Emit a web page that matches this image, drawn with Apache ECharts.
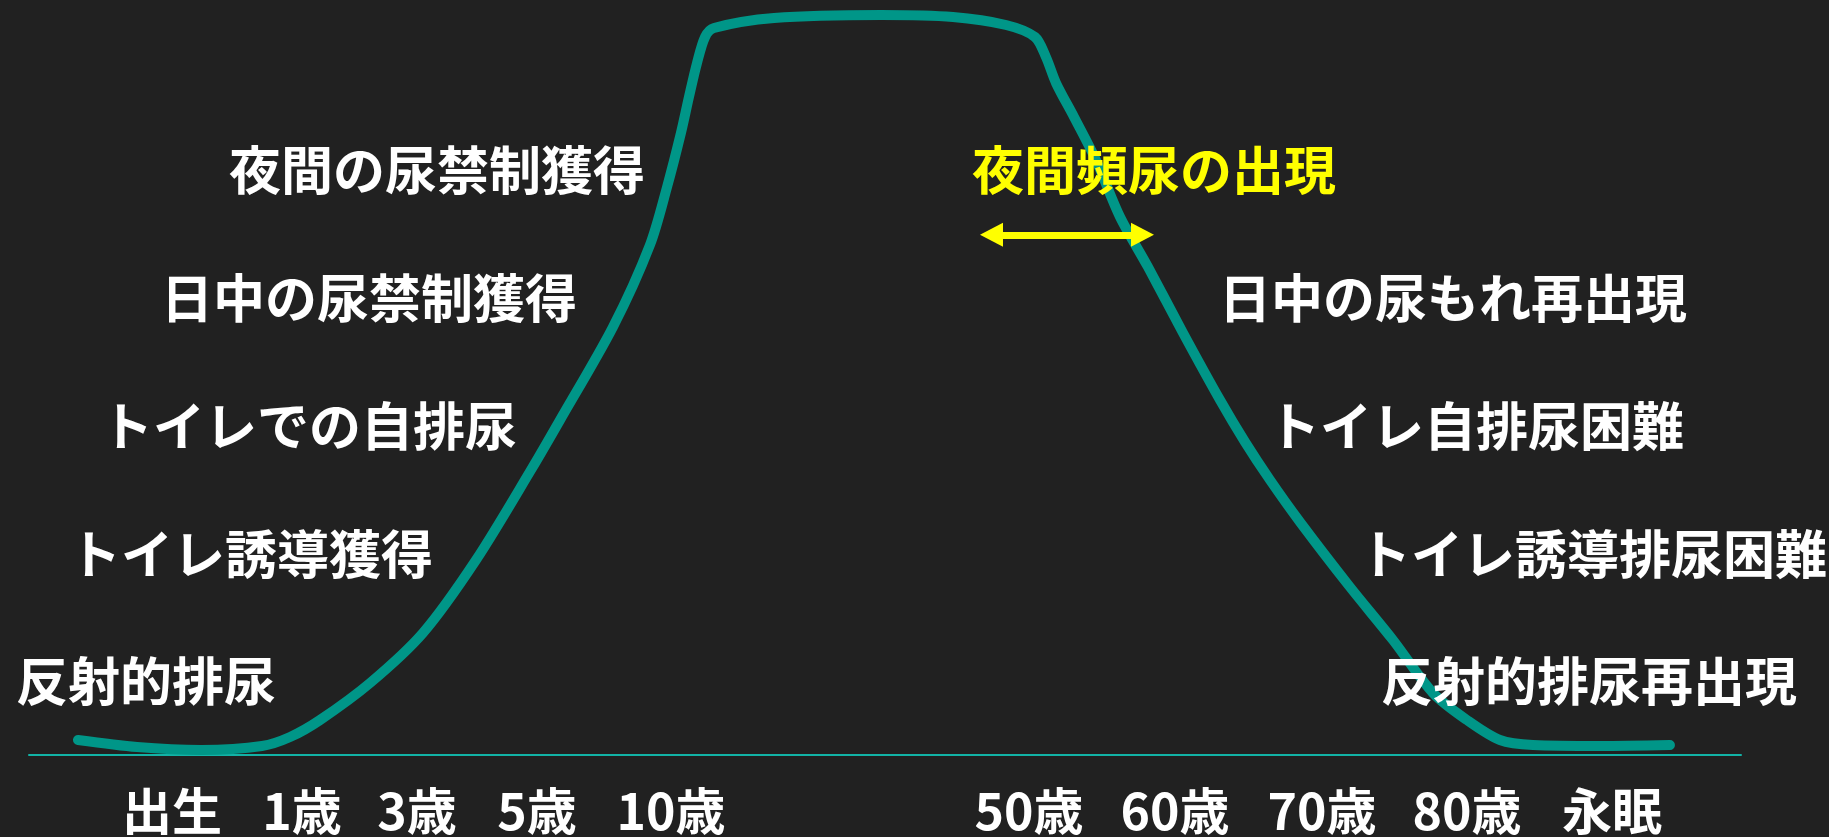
<!DOCTYPE html>
<html>
<head>
<meta charset="utf-8">
<script src="https://cdn.jsdelivr.net/npm/echarts@6/dist/echarts.min.js"></script>
<style>
html, body { margin: 0; padding: 0; background: #212121; }
#main { width: 1829px; height: 837px; }
</style>
</head>
<body>
<div id="main"></div>
<script>
// 横軸は 0〜100 の相対位置 (年齢は等間隔ではない)
var tickValues = [8.35, 15.95, 22.66, 29.67, 37.5, 58.41, 66.94, 75.53, 84.0, 92.46];
var tickLabels = ['出生', '1歳', '3歳', '5歳', '10歳', '50歳', '60歳', '70歳', '80歳', '永眠'];

// 排尿機能の曲線
var curveX = [2.86, 6.31, 10.05, 13.61, 15.25, 17.00, 19.92, 23.01, 26.11, 29.32, 31.02,
	34.11, 36.27, 37.27, 38.08, 38.55, 39.02, 39.49, 40.01, 43.52, 49.77,
	53.97, 57.07, 58.76, 59.40, 59.99, 61.04, 62.32, 63.73, 65.36, 67.41,
	69.57, 71.03, 72.49, 74.24, 77.16, 79.67, 82.01, 83.99, 85.92, 87.85, 91.76, 95.85];
var curveY = [2.03, 1.08, 0.68, 1.22, 2.43, 4.73, 9.73, 16.49, 26.35, 38.51, 45.27,
	57.84, 68.92, 76.76, 84.05, 88.92, 93.51, 97.03, 98.24, 99.59, 100.0,
	99.73, 98.65, 97.03, 94.32, 90.81, 86.22, 80.41, 72.70, 65.95, 57.03,
	47.97, 42.30, 37.16, 31.49, 22.70, 15.54, 8.38, 4.73, 2.03, 1.35, 1.22, 1.35];

// 発達 (左) と 加齢 (右)
var leftNotes = ['夜間の尿禁制獲得', '日中の尿禁制獲得', 'トイレでの自排尿', 'トイレ誘導獲得', '反射的排尿'];
var rightNotes = ['日中の尿もれ再出現', 'トイレ自排尿困難', 'トイレ誘導排尿困難', '反射的排尿再出現'];
var nocturiaNote = '夜間頻尿の出現';
var nocturiaRange = [56.22, 65.04];
var nocturiaLevel = 70.3;

var data = [];
for (var i = 0; i < curveX.length; i++) {
	data.push([curveX[i], curveY[i]]);
}

var FONT = '"Noto Sans CJK JP", "Noto Sans", sans-serif';

function note(text, cx, cy, color) {
	return {
		type: 'text',
		x: cx,
		y: cy,
		z: 100,
		style: {
			text: text,
			fill: color || '#ffffff',
			font: 'bold 52px ' + FONT,
			align: 'center',
			verticalAlign: 'middle'
		}
	};
}

var chart = echarts.init(document.getElementById('main'));
var option = {
	backgroundColor: '#212121',
	animation: false,
	grid: {
		left: 29,
		right: 88,
		top: 15,
		bottom: 82
	},
	xAxis: {
		type: 'value',
		min: 0,
		max: 100,
		splitLine: { show: false },
		axisTick: { show: false },
		axisLine: {
			show: true,
			lineStyle: { color: '#12b3a6', width: 2 }
		},
		axisLabel: {
			customValues: tickValues,
			formatter: function (v) {
				var best = 0;
				for (var i = 1; i < tickValues.length; i++) {
					if (Math.abs(tickValues[i] - v) < Math.abs(tickValues[best] - v)) best = i;
				}
				return tickLabels[best];
			},
			color: '#ffffff',
			fontFamily: FONT,
			fontWeight: 'bold',
			fontSize: 50,
			lineHeight: 50,
			margin: 31
		}
	},
	yAxis: {
		type: 'value',
		min: 0,
		max: 100,
		show: false
	},
	series: [{
		type: 'line',
		data: data,
		smooth: 0.3,
		symbol: 'none',
		clip: false,
		z: 2,
		lineStyle: {
			color: '#009688',
			width: 10,
			cap: 'round',
			join: 'round'
		}
	}, {
		type: 'line',
		data: [],
		z: 5,
		markLine: {
			silent: true,
			symbol: ['triangle', 'triangle'],
			symbolSize: [24, 23],
			label: { show: false },
			lineStyle: { color: '#ffff00', width: 7, type: 'solid' },
			data: [[
				{ coord: [nocturiaRange[0], nocturiaLevel] },
				{ coord: [nocturiaRange[1], nocturiaLevel] }
			]]
		}
	}],
	graphic: [
		note(leftNotes[0], 437, 170),
		note(leftNotes[1], 369, 298),
		note(leftNotes[2], 309, 426),
		note(leftNotes[3], 251, 554),
		note(leftNotes[4], 146, 681),
		note(nocturiaNote, 1154, 170, '#ffff00'),
		note(rightNotes[0], 1453, 298),
		note(rightNotes[1], 1476, 426),
		note(rightNotes[2], 1593, 554),
		note(rightNotes[3], 1589, 681)
	]
};
chart.setOption(option);
</script>
</body>
</html>
